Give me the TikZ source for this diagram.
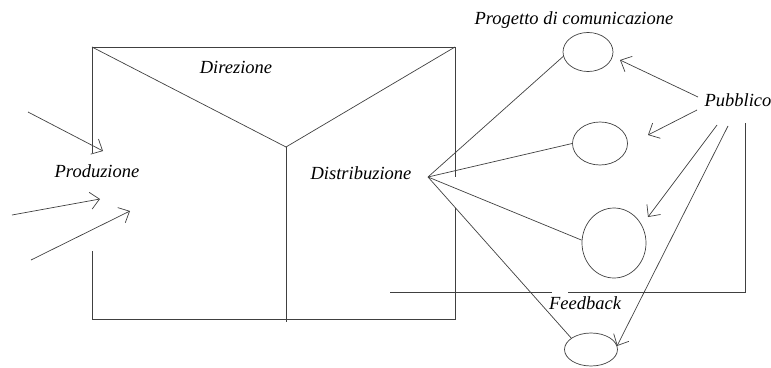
\documentclass[tikz,border=0pt]{standalone}
\usepackage{fontspec}
\setmainfont{Liberation Serif}
\usetikzlibrary{arrows.meta,shapes.geometric}
\begin{document}
\begin{tikzpicture}[x=1pt,y=-1pt,
  ln/.style={line width=0.7pt,draw=black!75},
  arr/.style={ln,-{Straight Barb[length=9pt,width=17pt,line width=0.7pt]}},
  lbl/.style={font=\fontsize{18.5}{20}\selectfont\itshape,anchor=base,inner sep=0pt},
  ell/.style={ellipse,ln,inner sep=0pt}]
\useasboundingbox (0,0) rectangle (771,367);
% box
\coordinate (tl) at (92,47);
\coordinate (tr) at (455,47);
\coordinate (bl) at (92,319);
\coordinate (br) at (455,319);
\coordinate (lgapA) at (92,153);
\coordinate (lgapB) at (92,251);
\coordinate (rgapA) at (455,177);
\coordinate (rgapB) at (455,208);
\coordinate (Y) at (286,147);
\coordinate (Ybot) at (286,322);
\draw[ln] (lgapA) -- (tl) -- (tr) -- (rgapA);
\draw[ln] (rgapB) -- (br) -- (bl) -- (lgapB);
\draw[ln] (tl) -- (Y) -- (tr);
\draw[ln] (Y) -- (Ybot);
% labels
\node[lbl] (dir) at (236,73) {Direzione};
\node[lbl] (prod) at (97,177) {Produzione};
\node[lbl] (distr) at (361,179) {Distribuzione};
\node[lbl] (prog) at (574,24) {Progetto di comunicazione};
\node[lbl] (pub) at (738,106) {Pubblico};
\node[lbl] (fb) at (585,309) {Feedback};
% ellipses
\node[ell,minimum width=50pt,minimum height=39pt] (e1) at (588,52) {};
\node[ell,minimum width=55pt,minimum height=43pt] (e2) at (600,143.5) {};
\node[ell,minimum width=64pt,minimum height=70pt] (e3) at (614,243) {};
\node[ell,minimum width=53pt,minimum height=33pt] (e4) at (591,349.5) {};
% distribution fan
\coordinate (apex) at (428,177);
\draw[ln] (apex) -- (e1.190);
\draw[ln] (apex) -- (e2.west);
\draw[ln] (apex) -- (e3.175);
\draw[ln] (apex) -- (e4.150);
% Pubblico arrows
\coordinate (p1) at (698,97);
\coordinate (p2) at (697,110);
\coordinate (p3) at (717,125);
\coordinate (p4) at (728,126);
\coordinate (t1) at (620,60);
\coordinate (t2) at (648,135);
\coordinate (t3) at (648,217);
\coordinate (t4) at (617,346);
\draw[arr] (p1) -- (t1);
\draw[arr] (p2) -- (t2);
\draw[arr] (p3) -- (t3);
\draw[arr] (p4) -- (t4);
% input arrows
\coordinate (i1) at (28,112);
\coordinate (i2) at (12,215);
\coordinate (i3) at (31,260);
\coordinate (j1) at (103,151);
\coordinate (j2) at (100,199);
\coordinate (j3) at (130,211);
\draw[arr] (i1) -- (j1);
\draw[arr] (i2) -- (j2);
\draw[arr] (i3) -- (j3);
% feedback
\coordinate (f1) at (390,292);
\coordinate (f2) at (552,292);
\coordinate (f3) at (568,292);
\coordinate (f4) at (745,292);
\coordinate (f5) at (745,123);
\draw[ln] (f1) -- (f2);
\draw[ln] (f3) -- (f4) -- (f5);
\end{tikzpicture}
\end{document}
